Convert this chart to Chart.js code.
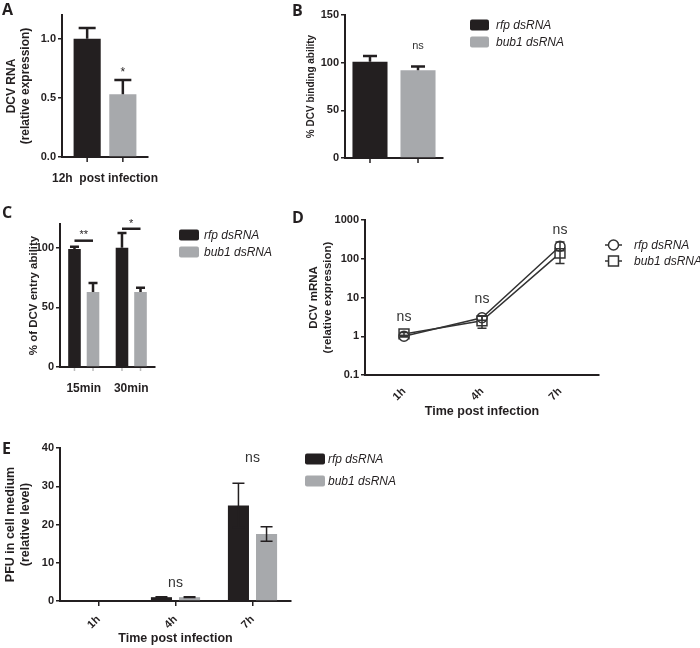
<!DOCTYPE html>
<html><head><meta charset="utf-8">
<script src="https://cdn.jsdelivr.net/npm/chart.js@4/dist/chart.umd.min.js"></script>
<style>
html,body{margin:0;padding:0;background:#fff;}
#wrap{position:relative;width:700px;height:648px;overflow:hidden;background:#fff;}
#wrap canvas{position:absolute;}
.lbl{position:absolute;font-family:'Open Sans',sans-serif;font-weight:700;font-size:16px;line-height:1;color:#231f20;}
</style></head><body>
<div id="wrap">
<canvas id="cA" width="160" height="200" style="left:0px;top:0px"></canvas>
<canvas id="cB" width="410" height="200" style="left:290px;top:0px"></canvas>
<canvas id="cC" width="290" height="210" style="left:0px;top:200px"></canvas>
<canvas id="cD" width="410" height="220" style="left:290px;top:200px"></canvas>
<canvas id="cE" width="460" height="218" style="left:0px;top:430px"></canvas>
<div class="lbl" style="left:2px;top:1px">A</div>
<div class="lbl" style="left:292px;top:2px">B</div>
<div class="lbl" style="left:2px;top:204px">C</div>
<div class="lbl" style="left:292px;top:209px">D</div>
<div class="lbl" style="left:2px;top:440px">E</div>
</div>
<script>
// ---------- data ----------
const seriesNames = ['rfp dsRNA', 'bub1 dsRNA'];

// Panel A
const aCategories = ['12h  post infection'];
const aRfp = [1.0];
const aRfpErr = [0.09];
const aBub1 = [0.53];
const aBub1Err = [0.12];
const aYTitle = ['DCV RNA', '(relative expression)'];

// Panel B
const bCategories = [''];
const bRfp = [101];
const bRfpErr = [6];
const bBub1 = [92];
const bBub1Err = [4];
const bYTitle = '% DCV binding ability';

// Panel C
const cCategories = ['15min', '30min'];
const cRfp = [99, 100];
const cRfpErr = [2, 12.5];
const cBub1 = [63, 63];
const cBub1Err = [7.5, 3.5];
const cYTitle = '% of DCV entry ability';

// Panel D
const dCategories = ['1h', '4h', '7h'];
const dRfp = [1.0, 3.0, 210];
const dRfpErrUp = [0.05, 0.4, 60];
const dRfpErrDown = [0.05, 0.4, 50];
const dBub1 = [1.15, 2.5, 140];
const dBub1ErrUp = [0.1, 0.8, 40];
const dBub1ErrDown = [0.1, 0.9, 65];
const dYTicks = [0.1, 1, 10, 100, 1000];
const dYTitle = ['DCV mRNA', '(relative expression)'];

// Panel E
const eCategories = ['1h', '4h', '7h'];
const eRfp = [0, 1.0, 25];
const eRfpErr = [null, 0.1, 5.8];
const eBub1 = [0, 1.0, 17.5];
const eBub1Err = [null, 0.1, 1.9];
const eYTitle = ['PFU in cell medium', '(relative level)'];
const xTitle = 'Time post infection';

// significance labels
const aSig = [{text: '*', index: 0, dataset: 1, value: 0.71}];
const bSig = [{text: 'ns', index: 0, dataset: 1, value: 118}];
const cSig = [
  {text: '**', index: 0, from: 0, to: 1, lineValue: 106, value: 110.5},
  {text: '*', index: 1, from: 0, to: 1, lineValue: 116, value: 119.7}
];
const dSig = [
  {text: 'ns', index: 0, value: 3.2},
  {text: 'ns', index: 1, value: 8.9},
  {text: 'ns', index: 2, value: 535}
];
const eSig = [
  {text: 'ns', index: 1, value: 4.7},
  {text: 'ns', index: 2, value: 37.4}
];

// ---------- style ----------
const FONT = "'Liberation Sans', Arial, Helvetica, sans-serif";
const INK = '#231f20';
const BLACK_BAR = '#231f20';
const GRAY_BAR = '#a7a9ac';
const LINE_INK = '#333333';

Chart.defaults.font.family = FONT;
Chart.defaults.color = INK;
Chart.defaults.animation = false;

// ---------- plugins ----------
const errPlugin = {
  id: 'errbars',
  afterDatasetsDraw(chart, args, o) {
    if (!o || !o.enabled) return;
    const ctx = chart.ctx, ys = chart.scales.y;
    ctx.save();
    ctx.strokeStyle = o.color || INK;
    ctx.lineWidth = o.width || 2;
    ctx.lineCap = 'butt';
    chart.data.datasets.forEach((ds, di) => {
      if (!ds.errUp) return;
      const meta = chart.getDatasetMeta(di);
      meta.data.forEach((el, i) => {
        const v = ds.data[i], up = ds.errUp[i];
        if (v == null || up == null) return;
        const dn = ds.errDown ? ds.errDown[i] : (o.both ? up : 0);
        const x = el.x, h = o.cap / 2;
        const yT = ys.getPixelForValue(v + up);
        const yB = ys.getPixelForValue(v - dn);
        ctx.beginPath();
        ctx.moveTo(x, yB); ctx.lineTo(x, yT);
        ctx.moveTo(x - h, yT); ctx.lineTo(x + h, yT);
        if (dn > 0) { ctx.moveTo(x - h, yB); ctx.lineTo(x + h, yB); }
        ctx.stroke();
      });
    });
    ctx.restore();
  }
};

const annotPlugin = {
  id: 'annots',
  afterDatasetsDraw(chart, args, o) {
    if (!o || !o.items) return;
    const ctx = chart.ctx, xs = chart.scales.x, ys = chart.scales.y;
    const xOf = (idx, ds) => ds == null ? xs.getPixelForValue(idx) : chart.getDatasetMeta(ds).data[idx].x;
    ctx.save();
    ctx.textAlign = 'center';
    ctx.textBaseline = 'middle';
    ctx.font = o.font;
    ctx.fillStyle = o.color || INK;
    ctx.strokeStyle = INK;
    o.items.forEach(it => {
      if (it.from != null) {
        const x1 = xOf(it.index, it.from), x2 = xOf(it.index, it.to);
        const y = ys.getPixelForValue(it.lineValue);
        ctx.lineWidth = 2.5;
        ctx.beginPath(); ctx.moveTo(x1, y); ctx.lineTo(x2, y); ctx.stroke();
        ctx.fillText(it.text, (x1 + x2) / 2, ys.getPixelForValue(it.value));
      } else {
        ctx.fillText(it.text, xOf(it.index, it.dataset), ys.getPixelForValue(it.value));
      }
    });
    ctx.restore();
  }
};

const barTickPlugin = {
  id: 'barticks',
  afterDatasetsDraw(chart, args, o) {
    if (!o || !o.enabled) return;
    const ctx = chart.ctx, b = chart.chartArea.bottom;
    ctx.save();
    ctx.strokeStyle = o.color || INK;
    ctx.lineWidth = 1.5;
    chart.data.datasets.forEach((ds, di) => {
      chart.getDatasetMeta(di).data.forEach(el => {
        ctx.beginPath(); ctx.moveTo(el.x, b + 1); ctx.lineTo(el.x, b + o.len); ctx.stroke();
      });
    });
    ctx.restore();
  }
};

const sideLegend = {
  id: 'sideLegend',
  afterDraw(chart, args, o) {
    if (!o || o.x == null) return;
    const ctx = chart.ctx;
    ctx.save();
    chart.data.datasets.forEach((ds, i) => {
      const y = o.y + i * o.dy;
      if (o.kind === 'box') {
        ctx.fillStyle = ds.backgroundColor;
        ctx.beginPath();
        ctx.roundRect(o.x, y - o.h / 2, o.w, o.h, 2);
        ctx.fill();
      } else {
        const cx = o.x + o.w / 2;
        ctx.strokeStyle = ds.borderColor; ctx.lineWidth = 1.5;
        ctx.beginPath(); ctx.moveTo(o.x, y); ctx.lineTo(o.x + o.w, y); ctx.stroke();
        ctx.fillStyle = '#fff';
        ctx.beginPath();
        if (ds.pointStyle === 'rect') {
          const s = ds.pointRadius * Math.SQRT1_2;
          ctx.rect(cx - s, y - s, 2 * s, 2 * s);
        } else {
          ctx.arc(cx, y, ds.pointRadius, 0, Math.PI * 2);
        }
        ctx.fill(); ctx.stroke();
      }
      ctx.fillStyle = INK;
      ctx.font = `italic 12px ${FONT}`;
      ctx.textAlign = 'left';
      ctx.textBaseline = 'middle';
      ctx.fillText(ds.label, o.x + o.w + o.gap, y + 0.5);
    });
    ctx.restore();
  }
};

Chart.register(errPlugin, annotPlugin, barTickPlugin, sideLegend);

// ---------- helpers ----------
function zeroPad(s) { s.paddingLeft = 0; s.paddingRight = 0; s.paddingTop = 0; s.paddingBottom = 0; }
function yAxis(o) {
  const ax = {
    type: o.type || 'linear',
    min: o.min, max: o.max,
    afterFit: s => { s.width = o.width; zeroPad(s); },
    border: {display: true, color: INK, width: 2},
    grid: {display: true, drawOnChartArea: false, drawTicks: true, tickLength: 4, color: INK, lineWidth: 1.5},
    ticks: {includeBounds: false, padding: 2, font: {size: 11, weight: 'bold'}, color: INK},
    title: {display: true, text: o.title, font: {size: o.tsize, weight: 'bold'}, color: INK, padding: {top: o.tpad, bottom: 0}}
  };
  if (o.step) ax.ticks.stepSize = o.step;
  if (o.fmt) ax.ticks.callback = o.fmt;
  if (o.afterBuildTicks) ax.afterBuildTicks = o.afterBuildTicks;
  return ax;
}
function xAxis(o) {
  const ax = {
    type: 'category', offset: true,
    afterFit: s => { s.height = o.height; zeroPad(s); },
    border: {display: true, color: INK, width: 2},
    grid: {display: true, drawOnChartArea: false, drawTicks: !!o.tickLen, tickLength: o.tickLen || 0, offset: false, color: INK, lineWidth: 1.5},
    ticks: {autoSkip: false, padding: o.pad, maxRotation: o.rot || 0, minRotation: o.rot || 0, font: {size: o.fsize || 11, weight: 'bold'}, color: INK}
  };
  if (o.title) ax.title = {display: true, text: o.title, font: {size: 12.5, weight: 'bold'}, color: INK, padding: {top: 0, bottom: o.tpadB || 0}};
  return ax;
}
function barSets(rfp, rfpErr, bub, bubErr, extra) {
  return [
    Object.assign({label: seriesNames[0], data: rfp, errUp: rfpErr, backgroundColor: BLACK_BAR}, extra),
    Object.assign({label: seriesNames[1], data: bub, errUp: bubErr, backgroundColor: GRAY_BAR}, extra)
  ];
}
function basePlugins(extra) {
  return Object.assign({legend: {display: false}, tooltip: {enabled: false}}, extra);
}

// ---------- A ----------
new Chart(document.getElementById('cA'), {
  type: 'bar',
  data: {labels: aCategories, datasets: barSets(aRfp, aRfpErr, aBub1, aBub1Err, {categoryPercentage: 0.83, barPercentage: 0.76})},
  options: {
    responsive: false,
    layout: {padding: {left: 0, top: 15, right: 12, bottom: 0}},
    scales: {
      x: xAxis({height: 43, pad: 14, fsize: 12}),
      y: yAxis({min: 0, max: 1.2, step: 0.5, width: 62, title: aYTitle, tsize: 12, tpad: 4, fmt: v => v.toFixed(1)})
    },
    plugins: basePlugins({
      errbars: {enabled: true, cap: 17, width: 2.5},
      barticks: {enabled: true, len: 5},
      annots: {items: aSig, font: `12px ${FONT}`},
      sideLegend: {kind: 'box', x: 170, y: 25, dy: 19, w: 20, h: 12, gap: 5}
    })
  }
});

// ---------- B ----------
new Chart(document.getElementById('cB'), {
  type: 'bar',
  data: {labels: bCategories, datasets: barSets(bRfp, bRfpErr, bBub1, bBub1Err, {categoryPercentage: 0.98, barPercentage: 0.73})},
  options: {
    responsive: false,
    layout: {padding: {left: 0, top: 15, right: 257, bottom: 0}},
    scales: {
      x: xAxis({height: 42, pad: 10}),
      y: yAxis({min: 0, max: 150, step: 50, width: 55, title: bYTitle, tsize: 10, tpad: 15})
    },
    plugins: basePlugins({
      errbars: {enabled: true, cap: 14, width: 2.5},
      barticks: {enabled: true, len: 5},
      annots: {items: bSig, font: `11px ${FONT}`, color: '#333'},
      sideLegend: {kind: 'box', x: 180, y: 25, dy: 17, w: 19, h: 11, gap: 7}
    })
  }
});

// ---------- C ----------
new Chart(document.getElementById('cC'), {
  type: 'bar',
  data: {labels: cCategories, datasets: barSets(cRfp, cRfpErr, cBub1, cBub1Err, {categoryPercentage: 0.78, barPercentage: 0.68})},
  options: {
    responsive: false,
    layout: {padding: {left: 0, top: 24, right: 135, bottom: 0}},
    scales: {
      x: xAxis({height: 43, pad: 14, fsize: 12}),
      y: yAxis({min: 0, max: 120, step: 50, width: 60, title: cYTitle, tsize: 11.5, tpad: 27})
    },
    plugins: basePlugins({
      errbars: {enabled: true, cap: 9, width: 2.5},
      barticks: {enabled: true, len: 4, color: '#bbbbbb'},
      annots: {items: cSig, font: `11px ${FONT}`},
      sideLegend: {kind: 'box', x: 179, y: 35, dy: 17, w: 20, h: 11, gap: 5}
    })
  }
});

// ---------- D ----------
new Chart(document.getElementById('cD'), {
  type: 'line',
  data: {
    labels: dCategories,
    datasets: [
      {label: seriesNames[0], data: dRfp, errUp: dRfpErrUp, errDown: dRfpErrDown, borderColor: LINE_INK, borderWidth: 1.5,
       pointStyle: 'circle', pointRadius: 5, pointBackgroundColor: '#fff', pointBorderColor: LINE_INK, pointBorderWidth: 1.5, tension: 0},
      {label: seriesNames[1], data: dBub1, errUp: dBub1ErrUp, errDown: dBub1ErrDown, borderColor: LINE_INK, borderWidth: 1.5,
       pointStyle: 'rect', pointRadius: 7, pointBackgroundColor: '#fff', pointBorderColor: LINE_INK, pointBorderWidth: 1.5, tension: 0}
    ]
  },
  options: {
    responsive: false,
    layout: {padding: {left: 0, top: 20, right: 101, bottom: 0}},
    scales: {
      x: xAxis({height: 45, pad: 10, rot: 45, title: xTitle, tpadB: 0.5}),
      y: yAxis({type: 'logarithmic', min: 0.1, max: 1000, width: 75, title: dYTitle, tsize: 11.5, tpad: 17,
                fmt: v => String(v), afterBuildTicks: s => { s.ticks = dYTicks.map(v => ({value: v})); }})
    },
    plugins: basePlugins({
      errbars: {enabled: true, cap: 9, width: 1.5, color: LINE_INK},
      annots: {items: dSig, font: `14px ${FONT}`, color: '#333'},
      sideLegend: {kind: 'line', x: 315, y: 45, dy: 16, w: 17, gap: 12}
    })
  }
});

// ---------- E ----------
new Chart(document.getElementById('cE'), {
  type: 'bar',
  data: {labels: eCategories, datasets: barSets(eRfp, eRfpErr, eBub1, eBub1Err, {categoryPercentage: 0.73, barPercentage: 0.75})},
  options: {
    responsive: false,
    layout: {padding: {left: 0, top: 18, right: 169, bottom: 0}},
    scales: {
      x: xAxis({height: 47, pad: 7, rot: 45, tickLen: 5, title: xTitle, tpadB: 1.5}),
      y: yAxis({min: 0, max: 40, step: 10, width: 60, title: eYTitle, tsize: 12.5, tpad: 3.5})
    },
    plugins: basePlugins({
      errbars: {enabled: true, cap: 12, width: 1.5, both: true},
      annots: {items: eSig, font: `14px ${FONT}`, color: '#333'},
      sideLegend: {kind: 'box', x: 305, y: 29, dy: 22, w: 20, h: 11, gap: 3}
    })
  }
});
</script>
</body></html>
